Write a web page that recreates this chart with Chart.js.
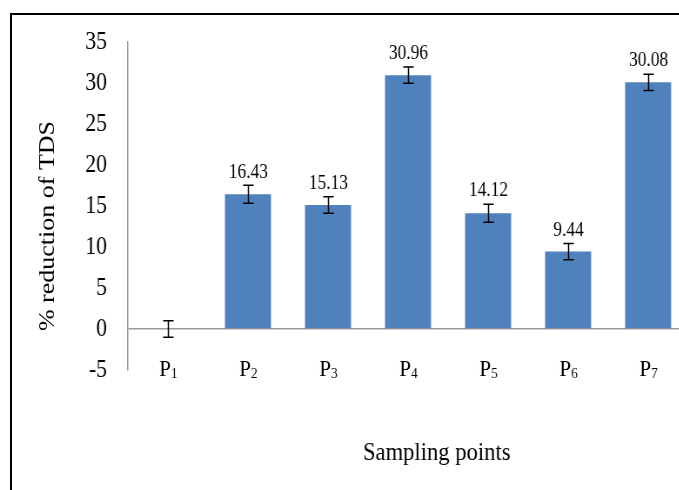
<!DOCTYPE html>
<html>
<head>
<meta charset="utf-8">
<script src="https://cdn.jsdelivr.net/npm/chart.js@4/dist/chart.umd.min.js"></script>
<style>
  html, body { margin: 0; padding: 0; background: #fff; overflow: hidden; }
  #wrap { position: relative; width: 679px; height: 490px; overflow: hidden; }
  #c { position: absolute; left: 0; top: 0; }
  #frame { position: absolute; left: 10px; top: 13px; width: 720px; height: 520px;
           border: 2px solid #000; box-sizing: border-box; pointer-events: none; }
</style>
</head>
<body>
<div id="wrap">
  <!-- drawn 800 wide and squeezed to 696 to match the narrow look of the original -->
  <canvas id="c" width="800" height="490" style="width:696px;height:490px"></canvas>
  <div id="frame"></div>
</div>
<script>
(function () {
  "use strict";

  // Data.
  // Category names: letter + subscript number (P1 is drawn as P with a subscript 1).
  const CATEGORY_LETTERS = ["P", "P", "P", "P", "P", "P", "P"];
  const CATEGORY_SUBS = ["1", "2", "3", "4", "5", "6", "7"];
  const VALUES = [0, 16.43, 15.13, 30.96, 14.12, 9.44, 30.08];
  const ERRORS = [1.0, 1.1, 1.0, 1.0, 1.1, 1.0, 1.0];
  const VALUE_LABELS = ["", "16.43", "15.13", "30.96", "14.12", "9.44", "30.08"];
  const Y_TICKS = [-5, 0, 5, 10, 15, 20, 25, 30, 35];

  const CATEGORIES = CATEGORY_LETTERS.map(function (l, i) { return l + CATEGORY_SUBS[i]; });

  const FONT = "'Liberation Serif', 'Times New Roman', serif";
  const BAR = "#4f81bd";
  const AXIS = "#9a9a9a";

  /** Draw a letter with a small subscript, centred on cx, letter baseline at by. */
  function drawSubLabel(ctx, letter, sub, cx, by) {
    ctx.font = "24px " + FONT;
    const wl = ctx.measureText(letter).width;
    ctx.font = "15px " + FONT;
    const ws = ctx.measureText(sub).width;
    const x0 = cx - (wl + ws) / 2;
    ctx.textAlign = "left";
    ctx.textBaseline = "alphabetic";
    ctx.font = "24px " + FONT;
    ctx.fillText(letter, x0, by);
    ctx.font = "15px " + FONT;
    ctx.fillText(sub, x0 + wl, by + 2);
  }

  // Error bars, value labels, category labels and the two axis titles.
  const extras = {
    id: "extras",
    afterDatasetsDraw(chart) {
      const ctx = chart.ctx;
      const x = chart.scales.x, y = chart.scales.y;
      ctx.save();
      ctx.strokeStyle = "#000";
      ctx.lineWidth = 1.5;
      VALUES.forEach(function (v, i) {
        const cx = Math.round(x.getPixelForValue(i)) + 0.5;
        const top = y.getPixelForValue(v + ERRORS[i]);
        const bot = y.getPixelForValue(v - ERRORS[i]);
        ctx.beginPath();
        ctx.moveTo(cx, top); ctx.lineTo(cx, bot);
        ctx.moveTo(cx - 6, top); ctx.lineTo(cx + 6, top);
        ctx.moveTo(cx - 6, bot); ctx.lineTo(cx + 6, bot);
        ctx.stroke();
        ctx.fillStyle = "#000";
        if (VALUE_LABELS[i]) {
          ctx.font = "20px " + FONT;
          ctx.textAlign = "center";
          ctx.textBaseline = "bottom";
          ctx.fillText(VALUE_LABELS[i], cx, top - 3);
        }
        // category label sits on the bottom edge of the plot, as in the original
        drawSubLabel(ctx, CATEGORY_LETTERS[i], CATEGORY_SUBS[i], cx, y.bottom + 6);
      });
      ctx.restore();
    },
    afterDraw(chart) {
      const ctx = chart.ctx;
      ctx.save();
      ctx.fillStyle = "#000";
      ctx.font = "26px " + FONT;
      ctx.textAlign = "center";
      ctx.textBaseline = "middle";
      ctx.fillText("Sampling points", 502, 453);
      ctx.translate(55, 226);
      ctx.rotate(-Math.PI / 2);
      ctx.fillText("% reduction of TDS", 0, 0);
      ctx.restore();
    }
  };

  new Chart(document.getElementById("c"), {
    type: "bar",
    data: {
      labels: CATEGORIES,
      datasets: [{
        data: VALUES,
        backgroundColor: BAR,
        borderWidth: 0,
        barPercentage: 0.575,
        categoryPercentage: 1
      }]
    },
    options: {
      responsive: false,
      devicePixelRatio: 1,
      animation: false,
      layout: { padding: { top: 42, right: 9, left: 0, bottom: 0 } },
      scales: {
        x: {
          grid: { display: false, drawTicks: false },
          border: { display: false },
          ticks: { display: false },
          afterFit: function (s) { s.height = 120; }
        },
        y: {
          min: -5,
          max: 35,
          afterBuildTicks: function (s) { s.ticks = Y_TICKS.map(function (v) { return { value: v }; }); },
          grid: {
            drawTicks: false,
            color: function (c) { return c.tick && c.tick.value === 0 ? AXIS : "rgba(0,0,0,0)"; },
            lineWidth: 1.5
          },
          border: { display: true, color: AXIS, width: 1.5 },
          ticks: { color: "#000", font: { family: FONT, size: 25 }, padding: 24 },
          afterFit: function (s) { s.width = 147; }
        }
      },
      plugins: { legend: { display: false }, tooltip: { enabled: false } }
    },
    plugins: [extras]
  });
})();
</script>
</body>
</html>
